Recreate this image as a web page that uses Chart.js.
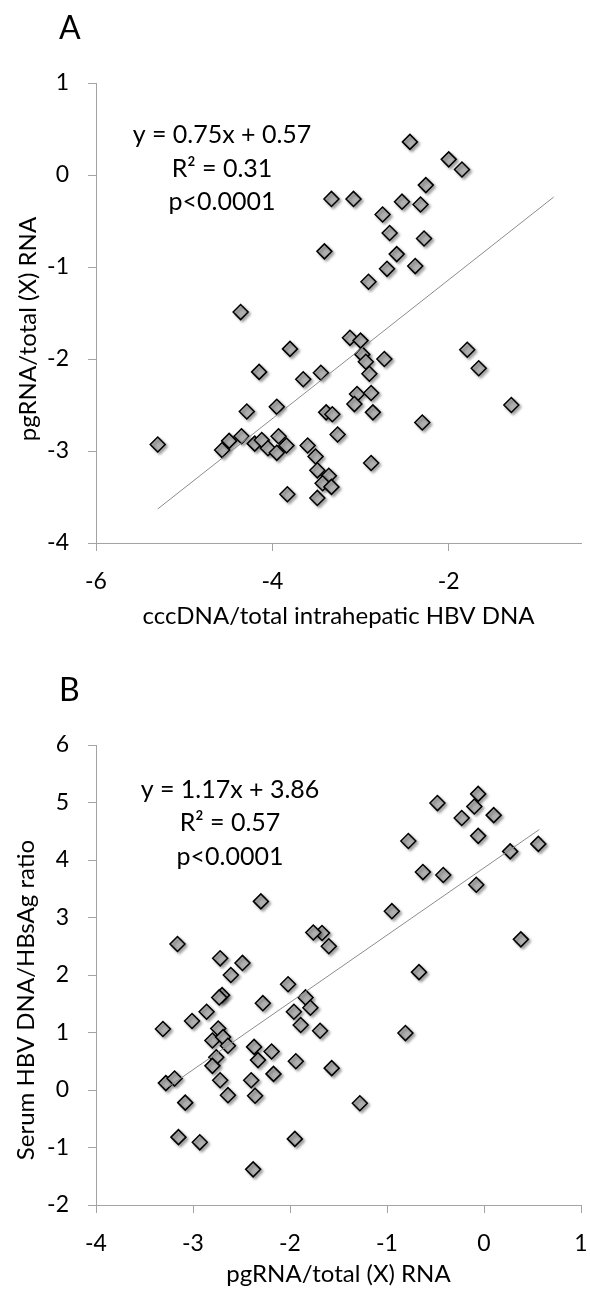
<!DOCTYPE html>
<html>
<head>
<meta charset="utf-8">
<script src="https://cdn.jsdelivr.net/npm/chart.js@4.4.1/dist/chart.umd.min.js"></script>
<style>
  body { margin: 0; background: #fff; }
  .panel { position: relative; width: 590px; height: 647px; }
</style>
</head>
<body>
<div class="panel"><canvas id="chartA"></canvas></div>
<div class="panel"><canvas id="chartB"></canvas></div>
<script>
// Panel A: cccDNA/total intrahepatic HBV DNA (x) vs pgRNA/total (X) RNA (y)
const cccdnaA = [-2.44, -2.00, -1.85, -2.26, -3.33, -3.08, -2.53, -2.32, -2.75, -2.67,
                 -2.28, -3.41, -2.59, -2.70, -2.38, -2.91, -4.36, -3.80, -4.15, -3.65,
                 -3.45, -4.29, -3.95, -3.39, -3.32, -3.26, -5.30, -4.57, -4.49, -4.35,
                 -4.20, -4.12, -4.05, -3.95, -3.93, -3.84, -3.60, -3.51, -3.49, -3.36,
                 -3.43, -3.33, -3.83, -3.49, -3.12, -3.00, -2.98, -2.94, -2.73, -2.90,
                 -3.04, -3.07, -2.88, -2.86, -2.30, -1.79, -1.66, -1.29, -2.88]
const pgrnaA = [0.36, 0.17, 0.06, -0.11, -0.26, -0.26, -0.29, -0.32, -0.43, -0.63,
                -0.69, -0.83, -0.86, -1.02, -0.99, -1.16, -1.49, -1.89, -2.14, -2.22,
                -2.15, -2.57, -2.52, -2.58, -2.60, -2.82, -2.93, -2.99, -2.89, -2.84,
                -2.92, -2.88, -2.97, -3.02, -2.84, -2.94, -2.94, -3.06, -3.21, -3.27,
                -3.35, -3.39, -3.47, -3.51, -1.77, -1.80, -1.95, -2.03, -2.00, -2.16,
                -2.38, -2.49, -2.37, -2.58, -2.69, -1.90, -2.10, -2.50, -3.13]
const fitA_x = [-5.30, -0.81]
const fitA_y = [-3.63, -0.24]
const xTicksA = [-6, -4, -2]
const yTicksA = [1, 0, -1, -2, -3, -4]
const eqA = ['y = 0.75x + 0.57', 'R\u00B2 = 0.31', 'p<0.0001']

// Panel B: pgRNA/total (X) RNA (x) vs serum HBV DNA/HBsAg ratio (y)
const pgrnaB = [-0.06, -0.10, -0.48, -0.23, 0.10, -0.06, -0.78, 0.27, 0.56, -0.63,
                -0.42, -0.08, -0.95, 0.38, -1.67, -1.60, -0.67, -2.30, -3.16, -1.76,
                -2.72, -2.49, -2.61, -2.02, -1.84, -1.79, -1.96, -1.89, -1.69, -2.28,
                -2.70, -2.73, -2.86, -3.01, -3.31, -2.74, -2.80, -2.69, -2.64, -2.76,
                -2.80, -2.72, -2.64, -2.37, -2.33, -2.19, -2.17, -2.40, -2.36, -1.94,
                -1.57, -3.28, -3.19, -3.08, -3.15, -2.93, -1.95, -2.38, -0.81, -1.28]
const ratioB = [5.15, 4.93, 4.99, 4.73, 4.78, 4.42, 4.33, 4.15, 4.28, 3.79,
                3.74, 3.57, 3.11, 2.62, 2.73, 2.50, 2.05, 3.28, 2.54, 2.74,
                2.29, 2.21, 2.00, 1.84, 1.61, 1.43, 1.36, 1.13, 1.03, 1.51,
                1.65, 1.61, 1.36, 1.20, 1.06, 1.07, 0.86, 0.92, 0.77, 0.57,
                0.42, 0.17, -0.09, 0.75, 0.52, 0.67, 0.28, 0.17, -0.10, 0.50,
                0.38, 0.12, 0.20, -0.22, -0.82, -0.91, -0.85, -1.38, 0.99, -0.23]
const fitB_x = [-3.25, 0.57]
const fitB_y = [0.06, 4.53]
const xTicksB = [-4, -3, -2, -1, 0, 1]
const yTicksB = [6, 5, 4, 3, 2, 1, 0, -1, -2]
const eqB = ['y = 1.17x + 3.86', 'R\u00B2 = 0.57', 'p<0.0001']

const FONT = 'Lato'
const AXIS_GREY = '#a3a3a3'

// soft drop shadow under the diamonds, like the original spreadsheet chart
const shadowPlugin = {
  id: 'shadow',
  beforeDatasetDraw(chart, args) {
    if (chart.data.datasets[args.index].showLine) return
    const ctx = chart.ctx
    ctx.save()
    ctx.shadowColor = 'rgba(0,0,0,0.35)'
    ctx.shadowBlur = 3
    ctx.shadowOffsetX = 2
    ctx.shadowOffsetY = 2
  },
  afterDatasetDraw(chart, args) {
    if (chart.data.datasets[args.index].showLine) return
    chart.ctx.restore()
  }
}

// panel letter, equation text and rotated y title
const textPlugin = {
  id: 'panelText',
  afterDraw(chart, args, opts) {
    const ctx = chart.ctx
    ctx.save()
    ctx.fillStyle = '#000'
    ctx.textBaseline = 'alphabetic'
    ctx.font = '32px ' + FONT
    ctx.textAlign = 'left'
    ctx.fillText(opts.letter, opts.letterX, opts.letterY)

    ctx.font = '25px ' + FONT
    ctx.textAlign = 'center'
    opts.lines.forEach((t, i) => ctx.fillText(t, opts.eqX, opts.eqY[i]))

    ctx.font = '24px ' + FONT
    ctx.textBaseline = 'middle'
    ctx.translate(opts.yTitleX, opts.yTitleY)
    ctx.rotate(-Math.PI / 2)
    ctx.fillText(opts.yTitle, 0, 0)
    ctx.restore()
  }
}

function toPoints(xs, ys) {
  return xs.map((x, i) => ({ x: x, y: ys[i] }))
}

function makeChart(id, cfg) {
  return new Chart(document.getElementById(id), {
    type: 'scatter',
    data: {
      datasets: [{
        data: toPoints(cfg.fitX, cfg.fitY),
        showLine: true,
        borderColor: '#8c8c8c',
        borderWidth: 1,
        pointRadius: 0,
        order: 0
      }, {
        data: toPoints(cfg.xs, cfg.ys),
        pointStyle: 'rectRot',
        pointRadius: 7.5,
        pointHoverRadius: 7.5,
        backgroundColor: '#b0b0b0',
        borderColor: '#000',
        borderWidth: 1.5,
        order: 1
      }]
    },
    options: {
      responsive: true,
      maintainAspectRatio: false,
      animation: false,
      events: [],
      layout: { padding: { top: cfg.top, right: 5, left: 0, bottom: 0 } },
      plugins: {
        legend: { display: false },
        tooltip: { enabled: false },
        panelText: cfg.text
      },
      scales: {
        x: {
          type: 'linear',
          min: cfg.xMin, max: cfg.xMax,
          afterBuildTicks: s => { s.ticks = cfg.xTicks.map(v => ({ value: v })) },
          afterFit: s => { s.height = cfg.xHeight; s.paddingLeft = 0; s.paddingRight = 0 },
          grid: { drawOnChartArea: false, color: AXIS_GREY, tickLength: 8 },
          border: { color: AXIS_GREY, width: 1 },
          ticks: { color: '#000', padding: 17, font: { family: FONT, size: 23 }, callback: v => String(v) },
          title: { display: true, text: cfg.xTitle, color: '#000', font: { family: FONT, size: 24 },
                   padding: { top: 0, bottom: cfg.xTitlePad } }
        },
        y: {
          type: 'linear',
          min: cfg.yMin, max: cfg.yMax,
          afterBuildTicks: s => { s.ticks = cfg.yTicks.map(v => ({ value: v })) },
          afterFit: s => { s.width = 96 },
          grid: { drawOnChartArea: false, color: AXIS_GREY, tickLength: 8 },
          border: { color: AXIS_GREY, width: 1 },
          ticks: { color: '#000', padding: 19, font: { family: FONT, size: 23 }, callback: v => String(v) }
        }
      }
    },
    plugins: [shadowPlugin, textPlugin]
  })
}

makeChart('chartA', {
  xs: cccdnaA, ys: pgrnaA, fitX: fitA_x, fitY: fitA_y,
  xTicks: xTicksA, yTicks: yTicksA,
  xMin: -6, xMax: -0.5, yMin: -4, yMax: 1,
  top: 83, xHeight: 104, xTitlePad: 16,
  xTitle: 'cccDNA/total intrahepatic HBV DNA',
  text: { letter: 'A', letterX: 59, letterY: 39, lines: eqA, eqX: 222, eqY: [143, 177, 210],
          yTitle: 'pgRNA/total (X) RNA', yTitleX: 28, yTitleY: 329 }
})

makeChart('chartB', {
  xs: pgrnaB, ys: ratioB, fitX: fitB_x, fitY: fitB_y,
  xTicks: xTicksB, yTicks: yTicksB,
  xMin: -4, xMax: 1, yMin: -2, yMax: 6,
  top: 98, xHeight: 89, xTitlePad: 5,
  xTitle: 'pgRNA/total (X) RNA',
  text: { letter: 'B', letterX: 59, letterY: 54, lines: eqB, eqX: 230, eqY: [151, 184, 218],
          yTitle: 'Serum HBV DNA/HBsAg ratio', yTitleX: 26, yTitleY: 353 }
})
</script>
</body>
</html>
